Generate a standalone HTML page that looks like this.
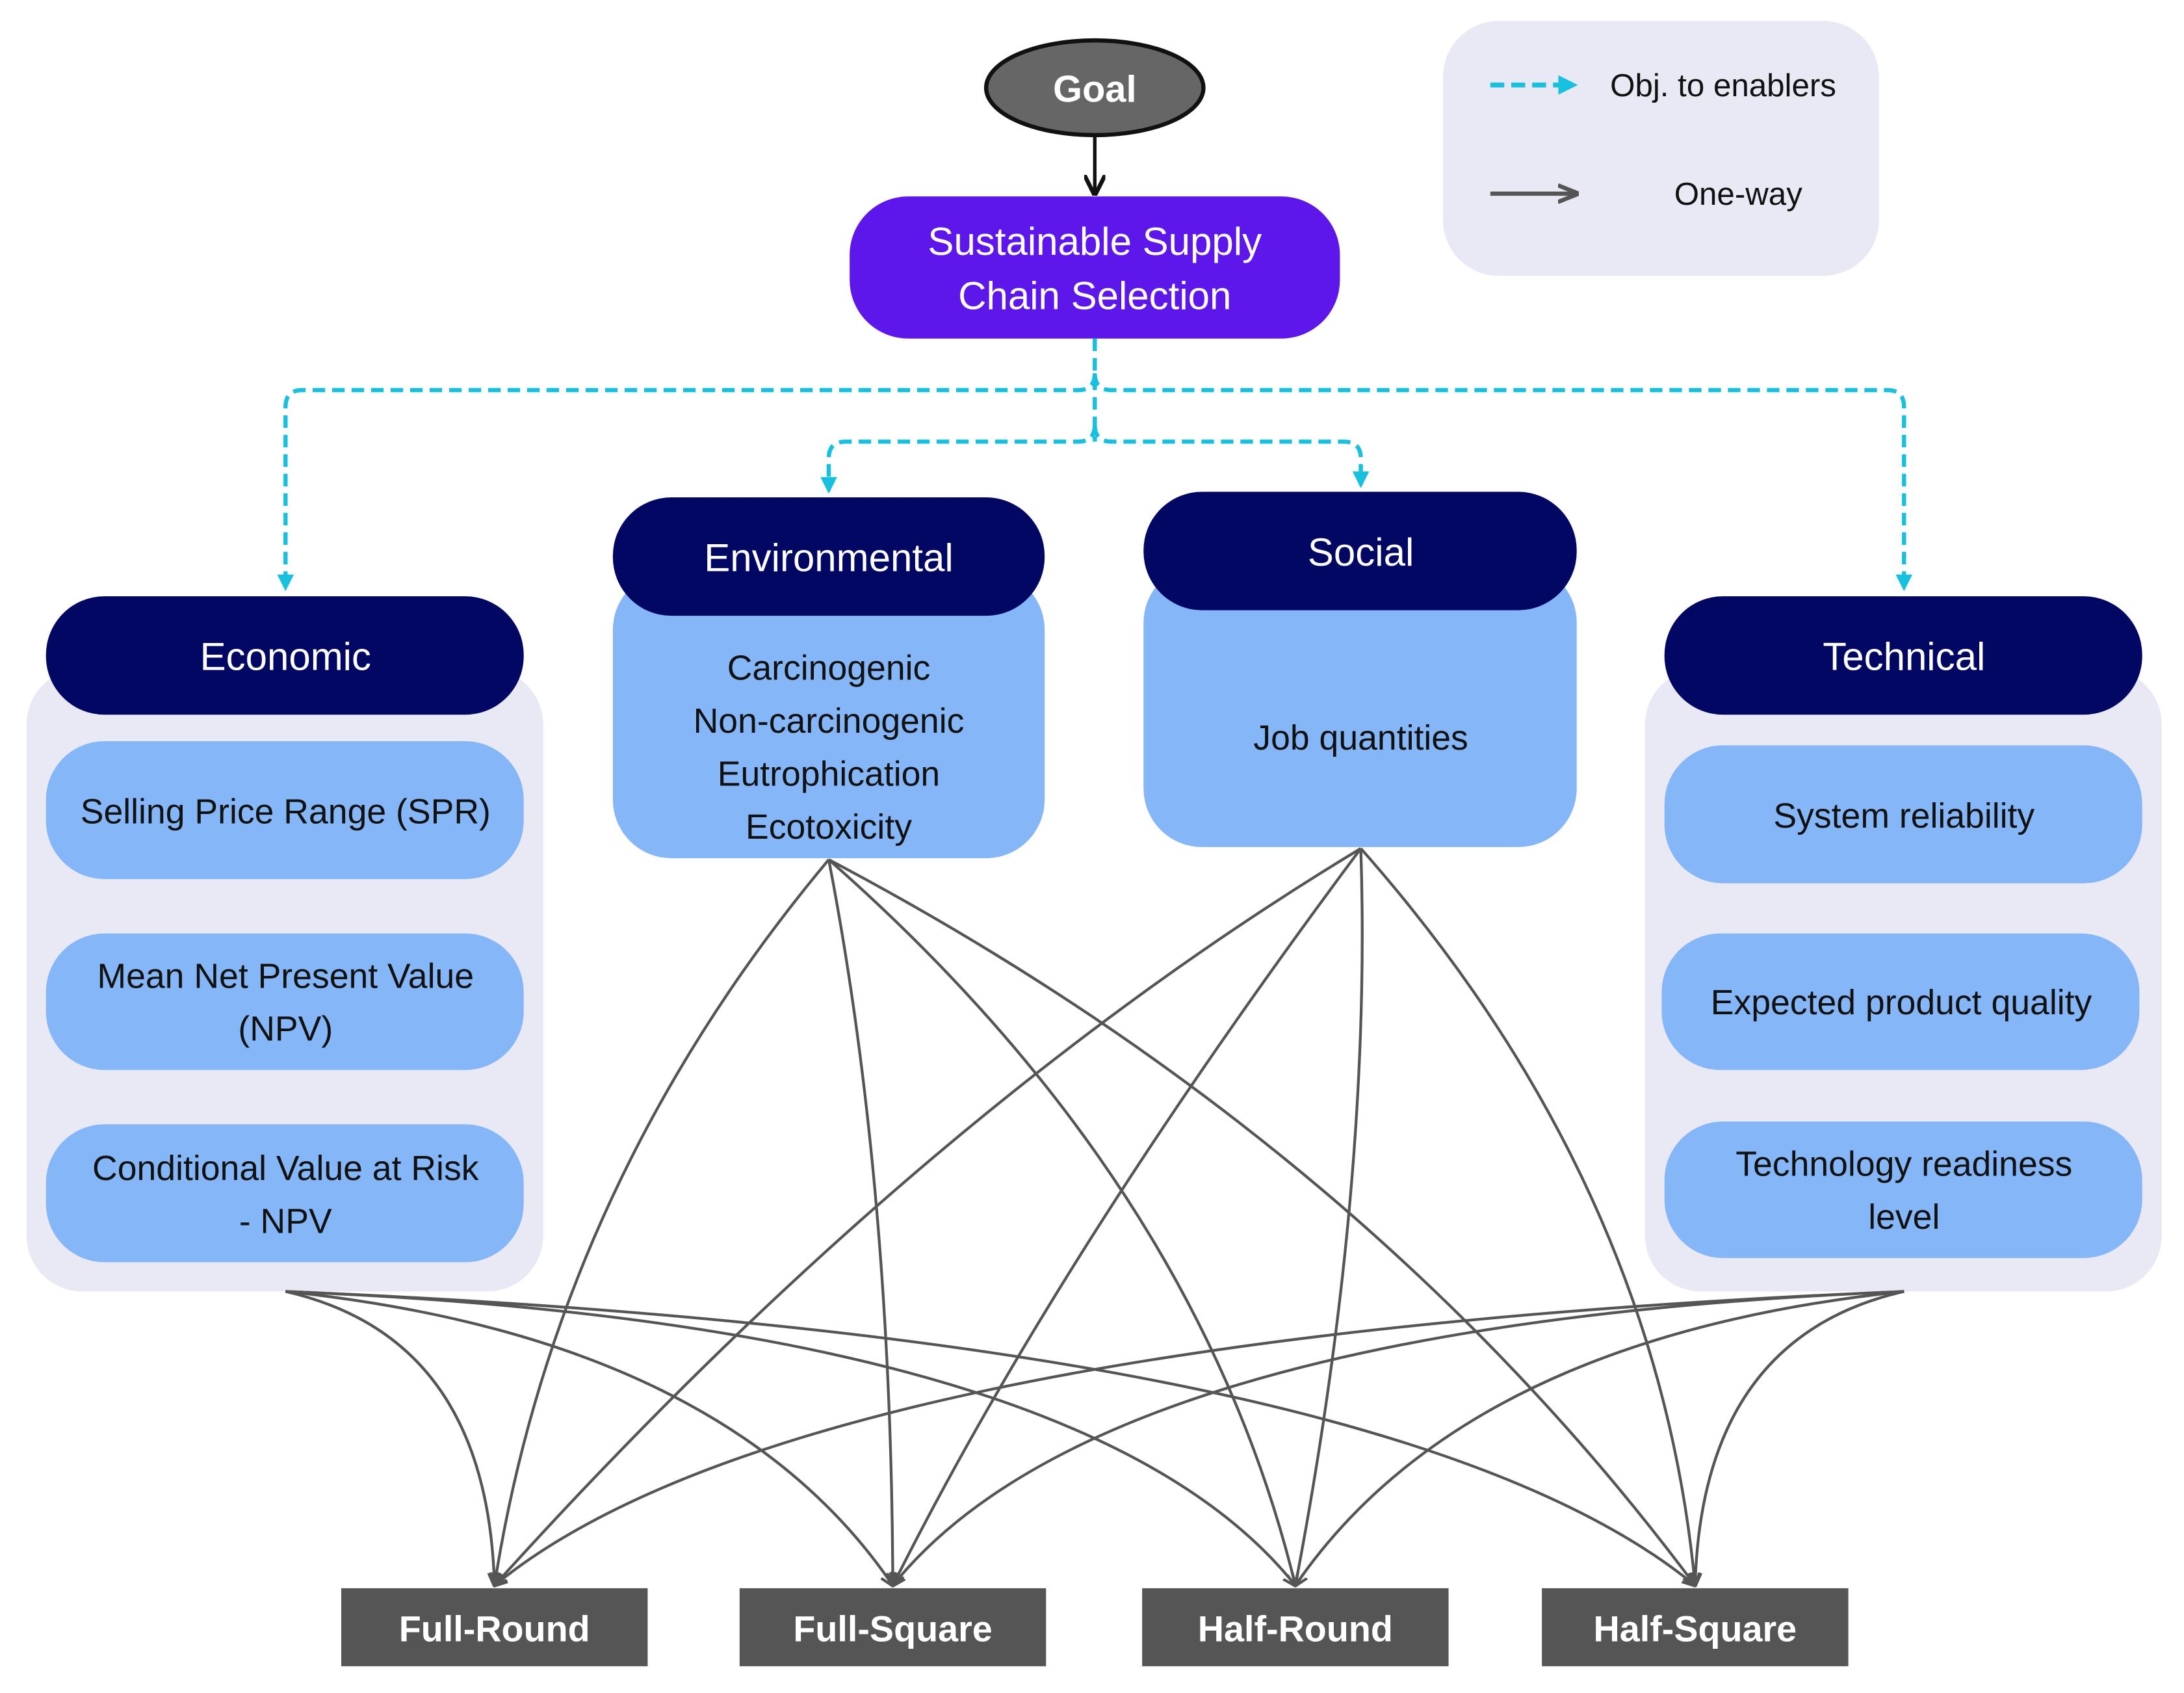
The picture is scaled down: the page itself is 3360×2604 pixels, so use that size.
<!DOCTYPE html>
<html><head><meta charset="utf-8"><style>
html,body{margin:0;padding:0;background:#fff}
svg{display:block}
text{font-family:"Liberation Sans",sans-serif}
</style></head><body>
<svg width="3360" height="2604" viewBox="0 0 1568 1215.2" xmlns="http://www.w3.org/2000/svg">
<defs>
<marker id="ac" viewBox="0 0 10 10" refX="8" refY="5" markerWidth="4" markerHeight="4" orient="auto"><path d="M0,0L10,5L0,10z" fill="#17c0de"/></marker>
<marker id="ak" viewBox="0 0 10 10" refX="9" refY="5" markerWidth="6" markerHeight="6" orient="auto"><path d="M0,0L10,5L0,10" fill="none" stroke="#111" stroke-width="2"/></marker>
<marker id="ag" viewBox="0 0 10 10" refX="9" refY="5" markerWidth="5" markerHeight="5" orient="auto"><path d="M0,1L10,5L0,9" fill="none" stroke="#555" stroke-width="2"/></marker>
</defs>
<rect width="1568" height="1215.2" fill="#fff"/>
<!-- legend -->
<rect x="1036" y="15" width="313" height="183" rx="40" fill="#e8e9f5"/>
<line x1="1070" y1="61" x2="1130" y2="61" stroke="#17c0de" stroke-width="3.5" stroke-dasharray="10,5" marker-end="url(#ac)"/>
<text x="1156" y="69" font-size="23" fill="#111">Obj. to enablers</text>
<line x1="1070" y1="139" x2="1132" y2="139" stroke="#555" stroke-width="3" marker-end="url(#ag)"/>
<text x="1248" y="147" font-size="23" fill="#111" text-anchor="middle">One-way</text>
<!-- goal -->
<ellipse cx="786" cy="63" rx="78" ry="34" fill="#666" stroke="#111" stroke-width="3"/>
<text x="786" y="73" font-size="27" font-weight="bold" fill="#fff" text-anchor="middle">Goal</text>
<line x1="786" y1="97" x2="786" y2="139" stroke="#111" stroke-width="2.5" marker-end="url(#ak)"/>
<rect x="610" y="141" width="352" height="102" rx="42" fill="#5e17eb"/>
<text x="786" y="183" font-size="28" fill="#fff" text-anchor="middle">Sustainable Supply</text>
<text x="786" y="222" font-size="28" fill="#fff" text-anchor="middle">Chain Selection</text>
<!-- dashed connectors -->
<g fill="none" stroke="#17c0de" stroke-width="3" stroke-dasharray="9,5">
<path d="M786,243 V317"/>
<path d="M786,268 Q786,280 774,280 H217 Q205,280 205,292 V422" marker-end="url(#ac)"/>
<path d="M786,268 Q786,280 798,280 H1355 Q1367,280 1367,292 V422" marker-end="url(#ac)"/>
<path d="M786,305 Q786,317 774,317 H607 Q595,317 595,329 V352" marker-end="url(#ac)"/>
<path d="M786,305 Q786,317 798,317 H965 Q977,317 977,329 V348" marker-end="url(#ac)"/>
</g>
<!-- groups -->
<rect x="19" y="480" width="371" height="447" rx="40" fill="#e8e9f5"/>
<rect x="1181" y="480" width="371" height="447" rx="40" fill="#e8e9f5"/>
<g fill="#85b6f7">
<rect x="33" y="532" width="343" height="99" rx="42"/>
<rect x="33" y="670" width="343" height="98" rx="42"/>
<rect x="33" y="807" width="343" height="99" rx="42"/>
<rect x="1195" y="535" width="343" height="99" rx="42"/>
<rect x="1193" y="670" width="343" height="98" rx="42"/>
<rect x="1195" y="805" width="343" height="98" rx="42"/>
<rect x="440" y="410" width="310" height="206" rx="42"/>
<rect x="821" y="405" width="311" height="203" rx="42"/>
</g>
<g fill="#020764">
<rect x="33" y="428" width="343" height="85" rx="42"/>
<rect x="1195" y="428" width="343" height="85" rx="42"/>
<rect x="440" y="357" width="310" height="85" rx="42"/>
<rect x="821" y="353" width="311" height="85" rx="42"/>
</g>
<g font-size="28" fill="#fff" text-anchor="middle">
<text x="205" y="481">Economic</text>
<text x="1367" y="481">Technical</text>
<text x="595" y="410">Environmental</text>
<text x="977" y="406">Social</text>
</g>
<g font-size="25" fill="#111" text-anchor="middle">
<text x="205" y="591">Selling Price Range (SPR)</text>
<text x="205" y="709">Mean Net Present Value</text>
<text x="205" y="747">(NPV)</text>
<text x="205" y="847">Conditional Value at Risk</text>
<text x="205" y="885">- NPV</text>
<text x="1367" y="594">System reliability</text>
<text x="1365" y="728">Expected product quality</text>
<text x="1367" y="844">Technology readiness</text>
<text x="1367" y="882">level</text>
<text x="595" y="488">Carcinogenic</text>
<text x="595" y="526">Non-carcinogenic</text>
<text x="595" y="564">Eutrophication</text>
<text x="595" y="602">Ecotoxicity</text>
<text x="977" y="538">Job quantities</text>
</g>
<!-- curves -->
<g fill="none" stroke="#555" stroke-width="2" marker-end="url(#ag)">
<path d="M205,927 Q350,960 355,1138"/>
<path d="M205,927 Q520,960 641,1138"/>
<path d="M205,927 Q780,950 930,1138"/>
<path d="M205,927 Q1000,960 1217,1138"/>
<path d="M1367,927 Q1222,960 1217,1138"/>
<path d="M1367,927 Q1052,960 930,1138"/>
<path d="M1367,927 Q792,950 641,1138"/>
<path d="M1367,927 Q572,960 355,1138"/>
<path d="M595,617 Q400,850 355,1138"/>
<path d="M595,617 Q640,850 641,1138"/>
<path d="M595,617 Q860,850 930,1138"/>
<path d="M595,617 Q980,820 1217,1138"/>
<path d="M977,609 Q660,800 355,1138"/>
<path d="M977,609 Q760,900 641,1138"/>
<path d="M977,609 Q985,850 930,1138"/>
<path d="M977,609 Q1190,850 1217,1138"/>
</g>
<!-- bottom boxes -->
<g fill="#555">
<rect x="245" y="1140" width="220" height="56"/>
<rect x="531" y="1140" width="220" height="56"/>
<rect x="820" y="1140" width="220" height="56"/>
<rect x="1107" y="1140" width="220" height="56"/>
</g>
<g font-size="26" font-weight="bold" fill="#fff" text-anchor="middle">
<text x="355" y="1178">Full-Round</text>
<text x="641" y="1178">Full-Square</text>
<text x="930" y="1178">Half-Round</text>
<text x="1217" y="1178">Half-Square</text>
</g>
</svg>
</body></html>
